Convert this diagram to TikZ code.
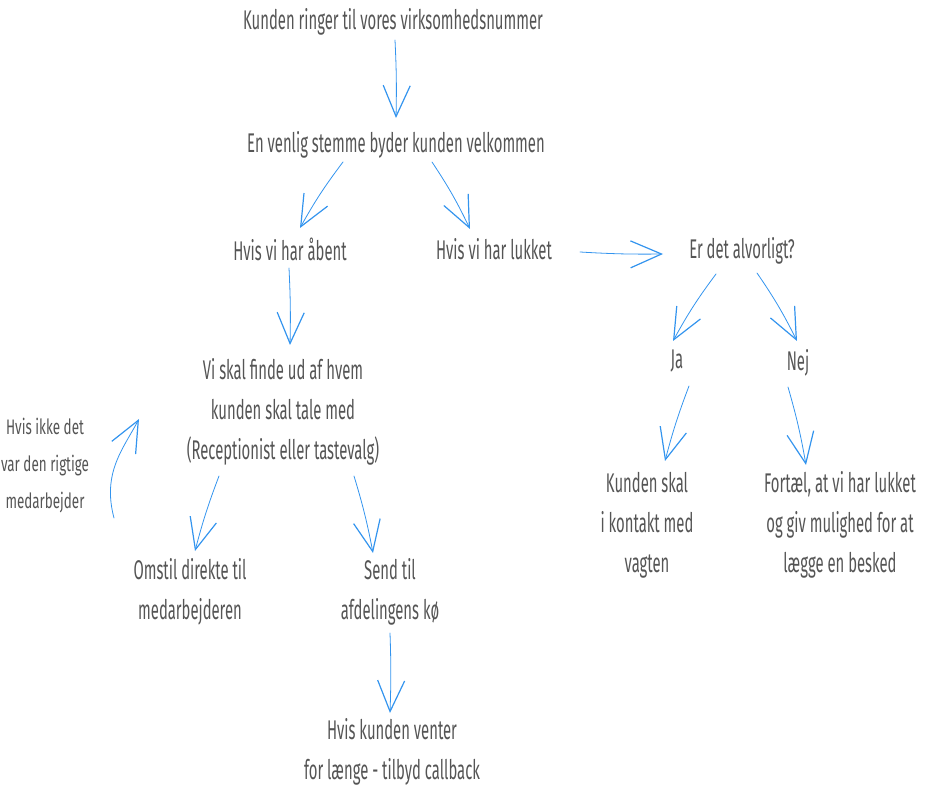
\documentclass[tikz,border=0pt]{standalone}
\usepackage{fontspec}
\usetikzlibrary{arrows.meta}
\newfontfamily\handfont[FakeStretch=0.55]{Fira Sans}
\newfontfamily\smallhandfont[FakeStretch=0.64]{Fira Sans}
\definecolor{txtgray}{HTML}{555555}
\definecolor{arrblue}{HTML}{3394EE}
\tikzset{
  lbl/.style={text=txtgray, font=\handfont\fontsize{27}{40}\selectfont, align=center, inner sep=0pt},
  smalllbl/.style={text=txtgray, font=\smallhandfont\fontsize{21}{37}\selectfont, align=center, inner sep=0pt},
  conn/.style={draw=arrblue, line width=0.8pt, line cap=round,
    -{Straight Barb[length=31pt, width=27pt, line width=1.2pt]}},
}
\begin{document}
\begin{tikzpicture}[x=1pt, y=-1pt]
\useasboundingbox (0,0) rectangle (927,791);
\node[lbl] (n1) at (393,22) {Kunden ringer til vores virksomhedsnummer};
\node[lbl] (n2) at (396,145) {En venlig stemme byder kunden velkommen};
\node[lbl] (n3) at (290,249) {Hvis vi har åbent};
\node[lbl] (n4) at (494,249) {Hvis vi har lukket};
\node[lbl] (n5) at (742,251) {Er det alvorligt?};
\node[lbl] (n6) at (283,412) {Vi skal finde ud af hvem\\kunden skal tale med\\(Receptionist eller tastevalg)};
\node[smalllbl] (n7) at (45,466) {Hvis ikke det\\var den rigtige\\medarbejder};
\node[lbl] (n8) at (190,592) {Omstil direkte til\\medarbejderen};
\node[lbl] (n9) at (390,592) {Send til\\afdelingens kø};
\node[lbl] (n10) at (392,752) {Hvis kunden venter\\for længe - tilbyd callback};
\node[lbl] (n11) at (677,361) {Ja};
\node[lbl] (n12) at (798,363) {Nej};
\node[lbl] (n13) at (647,525) {Kunden skal\\i kontakt med\\vagten};
\node[lbl] (n14) at (840,525) {Fortæl, at vi har lukket\\og giv mulighed for at\\lægge en besked};

\draw[conn] ([shift={(2,18)}]n1.center) to[bend left=2] ([shift={(0,-27)}]n2.center);
\draw[conn] ([shift={(-53,17)}]n2.center) to[bend right=4] ([shift={(10,-21)}]n3.center);
\draw[conn] ([shift={(36,17)}]n2.center) to[bend left=4] ([shift={(-24,-20)}]n4.center);
\draw[conn] ([shift={(-1,19)}]n3.center) to[bend left=2] ([shift={(7,-67)}]n6.center);
\draw[conn] ([shift={(86,3)}]n4.center) to[bend right=2] ([shift={(-79,3)}]n5.center);
\draw[conn] ([shift={(-26,23)}]n5.center) to[bend right=4] ([shift={(-4,-20)}]n11.center);
\draw[conn] ([shift={(15,22)}]n5.center) to[bend left=4] ([shift={(-1,-22)}]n12.center);
\draw[conn] ([shift={(12,25)}]n11.center) to[bend right=3] ([shift={(18,-64)}]n13.center);
\draw[conn] ([shift={(-10,24)}]n12.center) to[bend left=3] ([shift={(-34,-60)}]n14.center);
\draw[conn] ([shift={(-64,64)}]n6.center) to[bend right=3] ([shift={(5,-41)}]n8.center);
\draw[conn] ([shift={(71,64)}]n6.center) to[bend left=3] ([shift={(-17,-39)}]n9.center);
\draw[conn] ([shift={(0,41)}]n9.center) to[bend left=2] ([shift={(-2,-39)}]n10.center);
\draw[conn] ([shift={(69,52)}]n7.center) .. controls +(-12,-45) and +(-16,30) .. ([shift={(-144,7)}]n6.center);
\end{tikzpicture}
\end{document}
